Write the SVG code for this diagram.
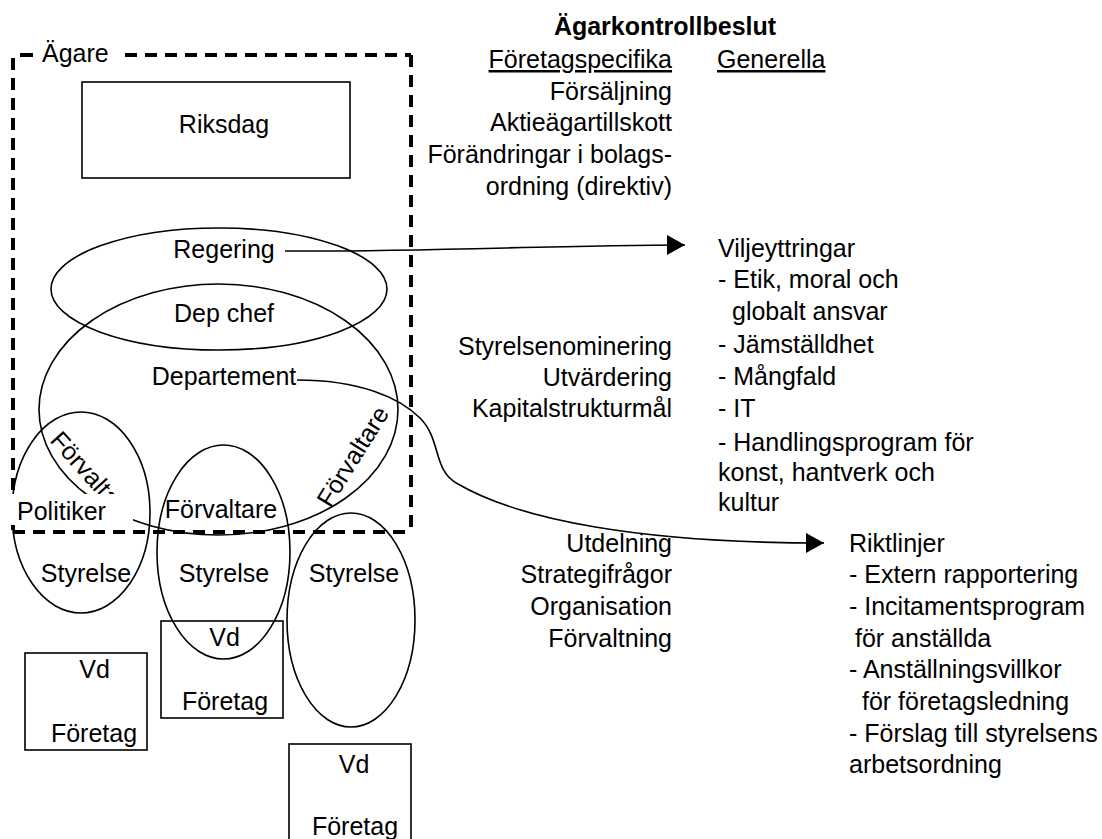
<svg xmlns="http://www.w3.org/2000/svg" width="1102" height="839" viewBox="0 0 1102 839">
<defs>
<style>
text{font-family:"Liberation Sans",Arial,sans-serif;font-size:25px;fill:#000}
.shape{fill:none;stroke:#000;stroke-width:1.6}
.r{text-anchor:end}
.m{text-anchor:middle}
.dash{fill:none;stroke:#000;stroke-width:4;stroke-dasharray:12 8}
.conn{fill:none;stroke:#000;stroke-width:1.6}
.u{text-decoration:underline}
</style>
<marker id="ah" markerWidth="18" markerHeight="20" refX="18" refY="10" orient="auto" markerUnits="userSpaceOnUse"><path d="M0,0 L18,10 L0,20 Z" fill="#000"/></marker>
</defs>
<rect width="1102" height="839" fill="#fff"/>

<g id="riksdag">
<rect class="shape" x="82" y="82" width="268" height="96"/>
<text class="m" x="224" y="133">Riksdag</text>
</g>

<g id="regering">
<ellipse class="shape" cx="219" cy="289" rx="168" ry="61"/>
<text class="m" x="224" y="258">Regering</text>
<text class="m" x="224" y="322">Dep chef</text>
</g>

<g id="departement">
<ellipse class="shape" cx="218.5" cy="409.5" rx="179.5" ry="125.5"/>
<text class="m" x="224" y="385">Departement</text>
<text x="49" y="441" transform="rotate(48 49 441)">Förvaltare</text>
<text class="m" x="360" y="461" transform="rotate(-58 360 461)">Förvaltare</text>
</g>

<g id="styrelse1">
<ellipse class="shape" cx="81" cy="512.5" rx="69" ry="100.5"/>
<text class="m" x="86" y="582">Styrelse</text>
</g>

<g id="styrelse2">
<ellipse class="shape" cx="223.5" cy="552" rx="66.5" ry="107"/>
<text class="m" x="221" y="518">Förvaltare</text>
<text class="m" x="224" y="582">Styrelse</text>
</g>

<g id="styrelse3">
<ellipse class="shape" cx="351" cy="620" rx="64" ry="107"/>
<text class="m" x="354" y="582">Styrelse</text>
</g>

<g id="foretag1">
<rect class="shape" x="25" y="653" width="122" height="97"/>
<text class="m" x="94.5" y="678">Vd</text>
<text class="m" x="94" y="742">Företag</text>
</g>

<g id="foretag2">
<rect class="shape" x="161" y="621" width="122" height="97"/>
<text class="m" x="224.5" y="646">Vd</text>
<text class="m" x="225" y="710">Företag</text>
</g>

<g id="foretag3">
<rect class="shape" x="289" y="744" width="122" height="100"/>
<text class="m" x="354" y="773">Vd</text>
<text class="m" x="355" y="835">Företag</text>
</g>

<g id="agare">
<path class="dash" d="M125,55 H411"/>
<path class="dash" d="M411,55 V532"/>
<path class="dash" d="M13,58 V532"/>
<path class="dash" d="M13,532 H411"/>
<path d="M20,55 H33" stroke="#000" stroke-width="4"/>
<text x="42" y="62">Ägare</text>
</g>

<g id="politiker">
<rect x="10" y="494" width="123" height="31" fill="#fff"/>
<text x="17" y="520">Politiker</text>
</g>

<g id="connectors">
<path class="conn" d="M285,251 C420,252 560,245 685,245" marker-end="url(#ah)"/>
<path class="conn" d="M297,380 C360,380 400,398 420,418 C442,440 432,470 458,484 C520,520 640,543 824,543" marker-end="url(#ah)"/>
</g>

<g id="agarkontrollbeslut">
<text x="665" y="35" class="m" font-weight="bold">Ägarkontrollbeslut</text>
<text class="r u" x="672" y="68">Företagspecifika</text>
<text class="u" x="717" y="68">Generella</text>
<text class="r" x="672" y="100">Försäljning</text>
<text class="r" x="672" y="131">Aktieägartillskott</text>
<text class="r" x="672" y="163">Förändringar i bolags-</text>
<text class="r" x="672" y="195">ordning (direktiv)</text>
</g>

<g id="specifika2">
<text class="r" x="672" y="355">Styrelsenominering</text>
<text class="r" x="672" y="386">Utvärdering</text>
<text class="r" x="672" y="417">Kapitalstrukturmål</text>
</g>

<g id="specifika3">
<text class="r" x="672" y="552">Utdelning</text>
<text class="r" x="672" y="583">Strategifrågor</text>
<text class="r" x="672" y="615">Organisation</text>
<text class="r" x="672" y="647">Förvaltning</text>
</g>

<g id="viljeyttringar">
<text x="718" y="257">Viljeyttringar</text>
<text x="718" y="288">- Etik, moral och</text>
<text x="732" y="320">globalt ansvar</text>
<text x="718" y="353">- Jämställdhet</text>
<text x="718" y="385">- Mångfald</text>
<text x="718" y="417">- IT</text>
<text x="718" y="451">- Handlingsprogram för</text>
<text x="718" y="481">konst, hantverk och</text>
<text x="718" y="511">kultur</text>
</g>

<g id="riktlinjer">
<text x="849" y="552">Riktlinjer</text>
<text x="849" y="583">- Extern rapportering</text>
<text x="849" y="615">- Incitamentsprogram</text>
<text x="855" y="647">för anställda</text>
<text x="849" y="678">- Anställningsvillkor</text>
<text x="862" y="710">för företagsledning</text>
<text x="849" y="742">- Förslag till styrelsens</text>
<text x="849" y="773">arbetsordning</text>
</g>
</svg>
